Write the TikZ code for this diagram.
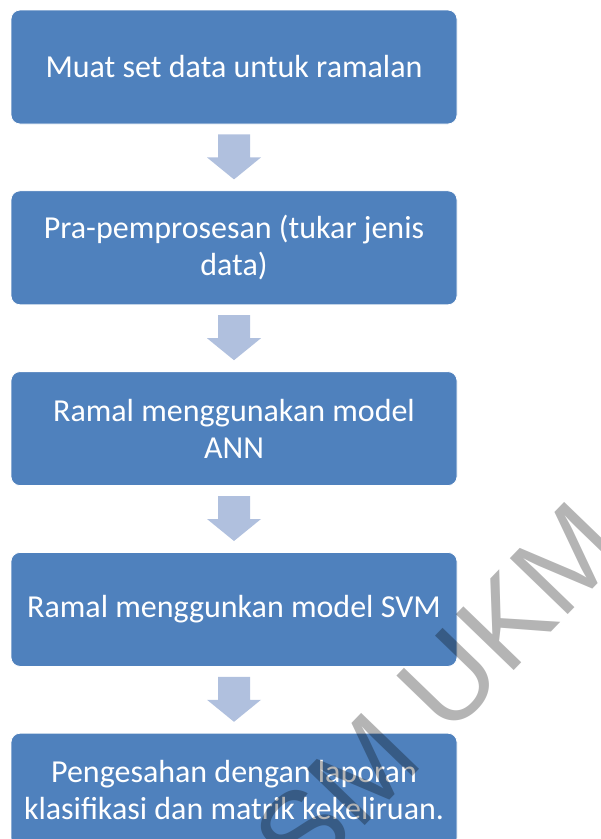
\documentclass[tikz,border=0pt]{standalone}
\usepackage{fontspec}
\setmainfont{Carlito}
\newfontfamily\markfont{Liberation Sans}
\usetikzlibrary{positioning,calc}
\definecolor{boxblue}{RGB}{79,129,189}
\definecolor{arrowblue}{RGB}{176,192,222}
\definecolor{markgray}{RGB}{180,180,180}

\begin{document}
\begin{tikzpicture}[x=1pt,y=-1pt,
stepbox/.style={draw=white,line width=0.8pt,fill=boxblue,rounded corners=9pt,
  minimum width=446pt,minimum height=114pt,inner sep=0pt,
  text=white,align=center,font=\fontsize{32}{37}\selectfont},
flow/.style={fill=arrowblue},
watermark/.style={text=markgray,rotate=46,inner sep=0pt,
  font=\markfont\fontsize{117}{117}\selectfont}]
\useasboundingbox (0,0) rectangle (601,839);
\clip (0,0) rectangle (601,839);
\node[stepbox] (load) at (234,67) {Muat set data untuk ramalan};
\node[stepbox,below=66pt of load] (prep) {Pra-pemprosesan (tukar jenis\\data)};
\node[stepbox,below=66pt of prep] (ann) {Ramal menggunakan model\\ANN};
\node[stepbox,below=66pt of ann] (svm) {Ramal menggunkan model SVM};
\node[stepbox,below=66pt of svm] (eval) {Pengesahan dengan laporan\\klasifikasi dan matrik kekeliruan.};
% block arrows between the steps
\foreach \u/\v in {load/prep,prep/ann,ann/svm,svm/eval}
  \fill[flow] ($(\u.south)+(-16,10)$) -- ++(32,0) -- ++(0,23) -- ++(11,0)
    -- ($(\v.north)+(0,-11)$) -- ($(\u.south)+(-27,33)$) -- ++(11,0) -- cycle;
\begin{scope}[blend mode=multiply]
\node[watermark] (mark) at (438,692) {SM UKM};
\end{scope}
\end{tikzpicture}
\end{document}
